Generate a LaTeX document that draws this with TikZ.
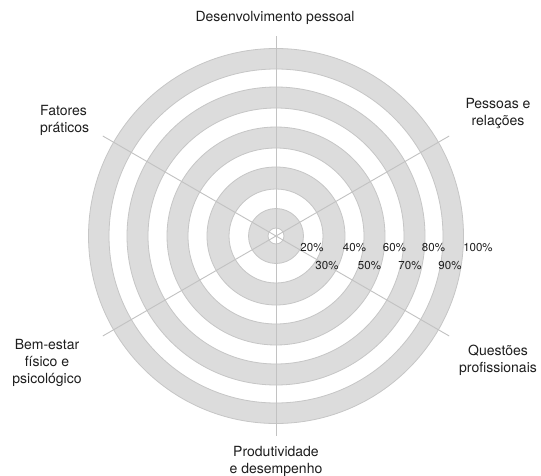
\documentclass[tikz,border=0pt]{standalone}
\usepackage{fontspec}
\setmainfont{TeX Gyre Heros}
\usetikzlibrary{calc}
\begin{document}
\begin{tikzpicture}[x=1pt,y=1pt,
  band/.style={fill=bandgray,draw=edgegray,line width=0.8pt,even odd rule},
  spoke/.style={draw=spokegray,line width=0.9pt},
  axislabel/.style={align=center,text=labelblack,font=\fontsize{14}{17}\selectfont,inner sep=0pt},
  pct/.style={text=labelblack,font=\fontsize{11.5}{13}\selectfont,inner sep=0pt}]
\definecolor{bandgray}{HTML}{DCDCDC}
\definecolor{edgegray}{HTML}{C6C6C6}
\definecolor{spokegray}{HTML}{C2C2C2}
\definecolor{labelblack}{HTML}{1E1E1E}
\useasboundingbox (0,0) rectangle (541,475);
\fill[white] (0,0) rectangle (541,475);

\coordinate (c) at (276,239);

% alternating grey rings
\foreach \ri/\ro in {8/27.5,47/69,88/109,128/149,167/187.5}{
  \path[band] (c) circle[radius=\ro] (c) circle[radius=\ri];
}

% spokes towards the six themes
\foreach \a/\n in {90/top,30/ur,-30/lr,-90/bot,-150/ll,150/ul}{
  \coordinate (e-\n) at ($(c)+(\a:200)$);
  \draw[spoke] (c) -- (e-\n);
}

% theme labels
\node[axislabel] (dev) at (275,457) {Desenvolvimento pessoal};
\node[axislabel] (pes) at (498,361) {Pessoas e\\relações};
\node[axislabel,align=left,anchor=west] (fat) at (40,355) {Fatores\\práticos};
\node[axislabel] (bem) at (47,112) {Bem-estar\\físico e\\psicológico};
\node[axislabel] (que) at (498,115) {Questões\\profissionais};
\node[axislabel] (pro) at (276,14) {Produtividade\\e desempenho};

% percentage scale
\node[pct] (p20) at (312,227) {20\%};
\node[pct] (p40) at (354.5,227) {40\%};
\node[pct] (p60) at (394.5,227) {60\%};
\node[pct] (p80) at (433.5,227) {80\%};
\node[pct] (p100) at (478,227) {100\%};
\node[pct] (p30) at (327,209) {30\%};
\node[pct] (p50) at (369.5,209) {50\%};
\node[pct] (p70) at (410,209) {70\%};
\node[pct] (p90) at (450,209) {90\%};
\end{tikzpicture}
\end{document}
